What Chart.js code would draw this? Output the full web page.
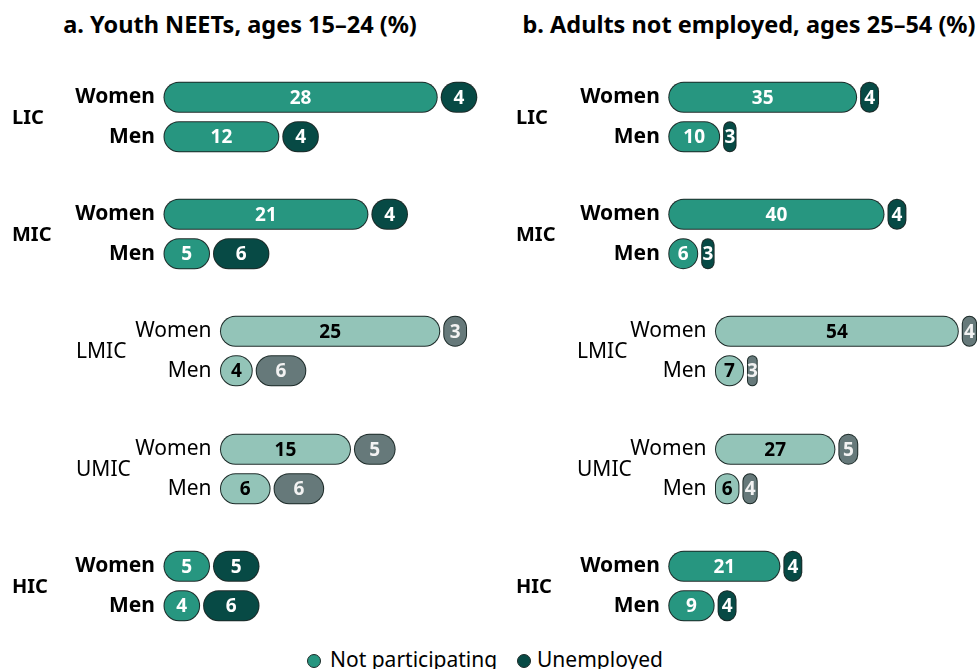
<!DOCTYPE html>
<html>
<head>
<meta charset="utf-8">
<script src="https://cdn.jsdelivr.net/npm/chart.js@4.4.1/dist/chart.umd.min.js"></script>
<style>
    body { margin: 0; background: #fff; font-family: "Noto Sans", sans-serif; color: #000; }
    #page { position: relative; width: 977px; height: 669px; overflow: hidden; }
    #page canvas { position: absolute; }
    .title { position: absolute; top: 8px; font-size: 23.5px; font-weight: bold; white-space: nowrap; transform: translateX(-50%); }
    .group { position: absolute; font-size: 21px; line-height: 21px; white-space: nowrap; transform: translateY(-50%); }
    .group.main { font-weight: bold; font-size: 20px; }
    .legend { position: absolute; top: 647px; font-size: 21px; line-height: 24px; white-space: nowrap; }
    .dot { position: absolute; top: 654px; width: 12px; height: 12px; border-radius: 50%; border: 1px solid #1d2b29; }
</style>
</head>
<body>
<div id="page">
    <div class="title" style="left: 240px;">a. Youth NEETs, ages 15–24 (%)</div>
    <div class="title" style="left: 749px;">b. Adults not employed, ages 25–54 (%)</div>
    <span class="dot" style="left: 307px; background:#279680"></span>
    <span class="legend" style="left: 330px;">Not participating</span>
    <span class="dot" style="left: 517px; background:#074a45"></span>
    <span class="legend" style="left: 537px;">Unemployed</span>
</div>

<script>
// --- Data ---
const groups = ['LIC', 'MIC', 'LMIC', 'UMIC', 'HIC'];
const subGroups = ['LMIC', 'UMIC']; // middle-income split, drawn indented and lighter
const sexes = ['Women', 'Men'];

// a. Youth NEETs, ages 15–24 (%) — [women, men] per group
const youthNotParticipating = [[28, 12], [21, 5], [25, 4], [15, 6], [5, 4]];
const youthUnemployed = [[4, 4], [4, 6], [3, 6], [5, 6], [5, 6]];

// b. Adults not employed, ages 25–54 (%)
const adultNotParticipating = [[35, 10], [40, 6], [54, 7], [27, 6], [21, 9]];
const adultUnemployed = [[4, 3], [4, 3], [4, 3], [5, 4], [4, 4]];

// --- Styles ---
const FONT = '"Noto Sans", sans-serif';
const OUTLINE = '#1d2b29';
const colors = {
    main: { np: '#279680', un: '#074a45', npText: '#ffffff', unText: '#ffffff' },
    sub:  { np: '#93c4b8', un: '#66797a', npText: '#000000', unText: '#f2f2f2' }
};

const panels = [
    { left: 0,   width: 489, mainStart: 162,   subStart: 218.5, mainScale: 9.9,  subScale: 8.93,
      np: youthNotParticipating, un: youthUnemployed, labelX: [12, 76] },
    { left: 490, width: 487, mainStart: 666.8, subStart: 713.5, mainScale: 5.48, subScale: 4.57,
      np: adultNotParticipating, un: adultUnemployed, labelX: [516, 577] }
];

const FIRST_ROW = 97;     // centre of the first "Women" bar
const GROUP_STEP = 117.3; // distance between groups
const ROW_STEP = 39.5;    // Women -> Men
const BAR_THICKNESS = 34;

// --- Value labels inside each pill ---
const valueLabels = {
    id: 'valueLabels',
    afterDatasetsDraw(chart, args, opts) {
        const ctx = chart.ctx;
        ctx.save();
        ctx.font = `bold 19px ${FONT}`;
        ctx.textAlign = 'center';
        ctx.textBaseline = 'middle';
        [0, 1].forEach(di => {
            const ds = chart.data.datasets[di];
            chart.getDatasetMeta(di).data.forEach((bar, i) => {
                const { x, base, y } = bar.getProps(['x', 'base', 'y'], true);
                ctx.fillStyle = opts.colors[di];
                ctx.fillText(ds.data[i], (x + base) / 2, y + 1);
            });
        });
        ctx.restore();
    }
};

const pill = { topLeft: 40, topRight: 40, bottomLeft: 40, bottomRight: 40 };

function segment(data, fill, isEdge) {
    // the "edge" copy sits underneath: white rim + dark outline, the fill copy on top
    return {
        data: data,
        stack: isEdge ? 'edge' : 'fill',
        grouped: false,
        backgroundColor: isEdge ? OUTLINE : fill,
        borderColor: isEdge ? '#ffffff' : 'rgba(0,0,0,0)',
        borderWidth: isEdge ? 1.5 : 2.5,
        borderRadius: pill,
        borderSkipped: false,
        inflateAmount: 0,
        barThickness: BAR_THICKNESS
    };
}

function drawGroup(panel, g) {
    const isSub = subGroups.includes(groups[g]);
    const c = isSub ? colors.sub : colors.main;
    const start = isSub ? panel.subStart : panel.mainStart;
    const pxPerUnit = isSub ? panel.subScale : panel.mainScale;
    const axisWidth = start - panel.left;
    const height = 80;
    const centre = FIRST_ROW + g * GROUP_STEP + ROW_STEP / 2;

    const canvas = document.createElement('canvas');
    canvas.width = panel.width;
    canvas.height = height;
    canvas.style.left = panel.left + 'px';
    canvas.style.top = (centre - height / 2) + 'px';
    document.getElementById('page').appendChild(canvas);

    const np = panel.np[g];
    const un = panel.un[g];

    new Chart(canvas, {
        type: 'bar',
        data: {
            labels: sexes,
            datasets: [
                segment(np, c.np, false),
                segment(un, c.un, false),
                segment(np, null, true),
                segment(un, null, true)
            ]
        },
        options: {
            indexAxis: 'y',
            responsive: false,
            animation: false,
            layout: { padding: { top: (height - 2 * ROW_STEP) / 2, bottom: (height - 2 * ROW_STEP) / 2 } },
            plugins: {
                legend: { display: false },
                tooltip: { enabled: false },
                valueLabels: { colors: [c.npText, c.unText] }
            },
            scales: {
                x: {
                    stacked: true,
                    display: false,
                    min: 0,
                    max: (panel.width - axisWidth) / pxPerUnit
                },
                y: {
                    grid: { display: false, drawTicks: false },
                    border: { display: false },
                    ticks: {
                        color: '#000',
                        padding: 7,
                        font: { family: FONT, size: 21, weight: isSub ? 'normal' : 'bold' }
                    },
                    afterFit(scale) {
                        scale.width = axisWidth;
                        // tick labels may overhang; keep the rows on a fixed pitch
                        scale.paddingTop = 0;
                        scale.paddingBottom = 0;
                    }
                }
            }
        },
        plugins: [valueLabels]
    });

    const label = document.createElement('div');
    label.className = 'group' + (isSub ? '' : ' main');
    label.textContent = groups[g];
    label.style.left = panel.labelX[isSub ? 1 : 0] + 'px';
    label.style.top = (centre - 1) + 'px';
    document.getElementById('page').appendChild(label);
}

panels.forEach(panel => groups.forEach((name, g) => drawGroup(panel, g)));
</script>
</body>
</html>
